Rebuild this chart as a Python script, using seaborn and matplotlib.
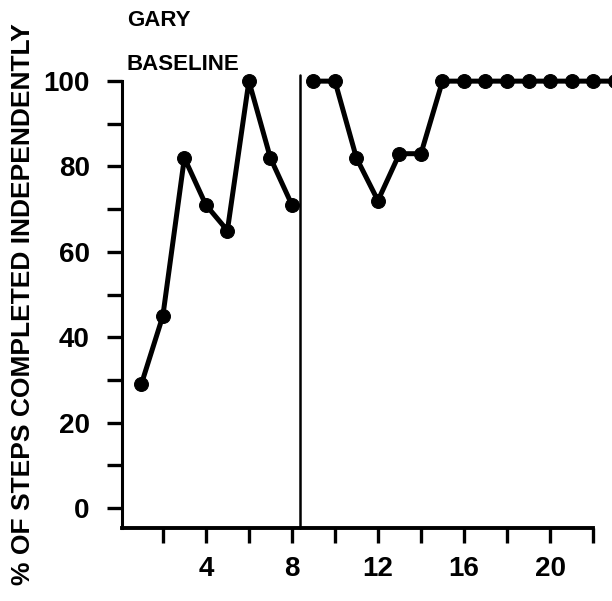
import numpy as np
import pandas as pd
import matplotlib
matplotlib.use('Agg')
import matplotlib.pyplot as plt
import seaborn as sns

# session numbers and % of steps done alone
baseline_sessions = [1, 2, 3, 4, 5, 6, 7, 8]
baseline_pct = [29, 45, 82, 71, 65, 100, 82, 71]
treat_sessions = [9, 10, 11, 12, 13, 14, 15, 16, 17, 18, 19, 20, 21, 22, 23]
treat_pct = [100, 100, 82, 72, 83, 83, 100, 100, 100, 100, 100, 100, 100, 100, 100]
phase_change = 8.37

x_ticks = [2, 4, 6, 8, 10, 12, 14, 16, 18, 20, 22]
x_labels = ['', '4', '', '8', '', '12', '', '16', '', '20', '']
y_ticks = [0, 10, 20, 30, 40, 50, 60, 70, 80, 90, 100]
y_labels = ['0', '', '20', '', '40', '', '60', '', '80', '', '100']

base = pd.DataFrame({'session': baseline_sessions, 'pct': baseline_pct})
treat = pd.DataFrame({'session': treat_sessions, 'pct': treat_pct})

sns.set_style('ticks')
plt.rcParams['font.family'] = ['Liberation Sans', 'DejaVu Sans']
plt.rcParams['font.weight'] = 'bold'
plt.rcParams['text.color'] = 'black'
plt.rcParams['axes.labelcolor'] = 'black'

fig = plt.figure(figsize=(6.12, 6.01), dpi=100)
ax = fig.add_axes([0.199, 0.1215, 0.77, 0.7435])

for d in (base, treat):
    sns.lineplot(data=d, x='session', y='pct', ax=ax, color='black',
                 lw=3.6, marker='o', markersize=10, markeredgecolor='black')

ax.plot([phase_change, phase_change], [-4.7, 101.5], color='black', lw=1.8)

for ln in ax.lines:
    ln.set_clip_on(False)

ax.set_xlim(0.09, 22)
ax.set_ylim(-4.7, 100)
ax.set_xticks(x_ticks)
ax.set_xticklabels(x_labels)
ax.set_yticks(y_ticks)
ax.set_yticklabels(y_labels)

sns.despine(ax=ax)
ax.spines['left'].set_linewidth(2.2)
ax.spines['bottom'].set_linewidth(2.8)
ax.spines['left'].set_color('black')
ax.spines['bottom'].set_color('black')
ax.tick_params(axis='both', direction='out', length=11, width=2.4,
               labelsize=20, color='black', labelcolor='black')
ax.tick_params(axis='y', pad=12)
ax.tick_params(axis='x', pad=9)

ax.set_xlabel('')
ax.set_ylabel('% OF STEPS COMPLETED INDEPENDENTLY', fontsize=19,
              fontweight='bold', labelpad=6)

fig.text(0.207, 0.966, 'GARY', fontsize=16, fontweight='bold', va='center')
fig.text(0.207, 0.893, 'BASELINE', fontsize=16, fontweight='bold', va='center')

fig.savefig('out.png', dpi=100)
